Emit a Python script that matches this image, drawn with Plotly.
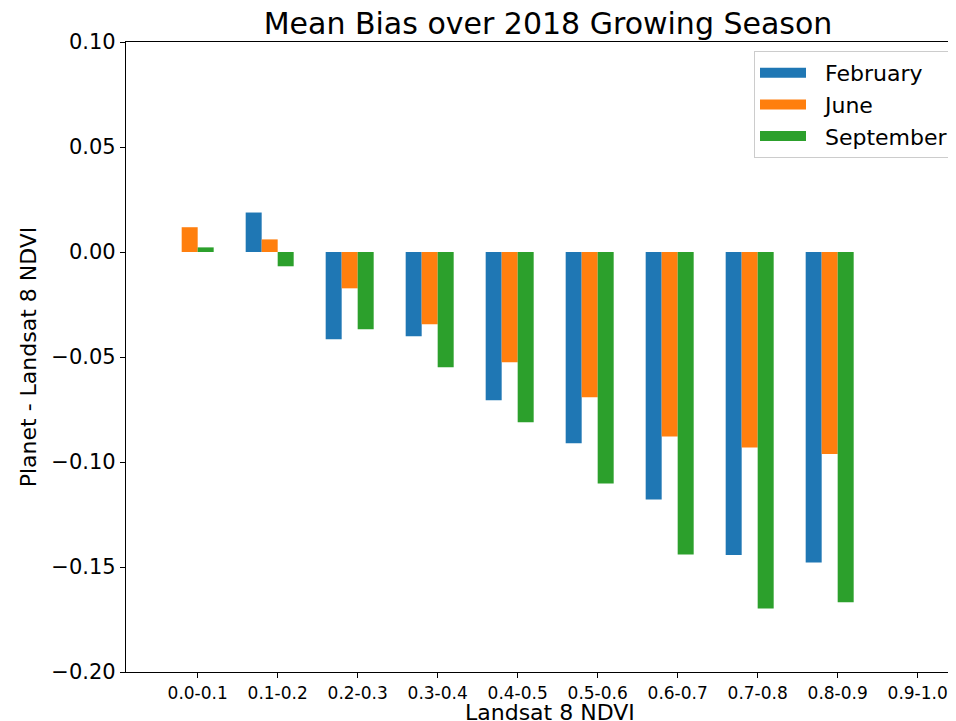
import plotly.graph_objects as go

categories = ["0.0-0.1", "0.1-0.2", "0.2-0.3", "0.3-0.4", "0.4-0.5",
              "0.5-0.6", "0.6-0.7", "0.7-0.8", "0.8-0.9", "0.9-1.0"]
february = [0.0, 0.0188, -0.0416, -0.0401, -0.0706, -0.0911, -0.1178, -0.1443, -0.1478, None]
june = [0.0118, 0.0060, -0.0173, -0.0344, -0.0525, -0.0692, -0.0878, -0.0931, -0.0962, None]
september = [0.0022, -0.0068, -0.0368, -0.0549, -0.0811, -0.1102, -0.1440, -0.1698, -0.1668, None]
y_ticks = [-0.20, -0.15, -0.10, -0.05, 0.00, 0.05, 0.10]

positions = list(range(len(categories)))
series = [("February", february, "#1f77b4", -0.4),
          ("June", june, "#ff7f0e", -0.2),
          ("September", september, "#2ca02c", 0.0)]

# page body adds an 8px margin, so the figure is 8px smaller than the window
W, H = 948, 713
L, T, B = 118, 34, 49
PW, PH = W - L, H - T - B

FONT = "DejaVu Sans, Verdana, sans-serif"
fig = go.Figure()
for name, vals, color, off in series:
    fig.add_trace(go.Bar(x=positions, y=vals, name=name, width=0.2, offset=off,
                         marker=dict(color=color, line=dict(width=0)),
                         showlegend=False))
    fig.add_trace(go.Scatter(x=[None], y=[None], mode="lines", name="\u00a0\u00a0" + name,
                             line=dict(color=color, width=16)))

fig.update_layout(
    width=W, height=H,
    margin=dict(l=L, r=0, t=T, b=B),
    plot_bgcolor="white", paper_bgcolor="white",
    barmode="overlay",
    font=dict(family=FONT, color="black", size=22),
    title=dict(text="Mean Bias over 2018 Growing Season", font=dict(size=30, family=FONT),
               xref="container", x=540/W, xanchor="center",
               yref="container", y=1 - 15/H, yanchor="middle"),
    legend=dict(x=(746-L)/PW, xanchor="left", y=(PH + T - 43)/PH, yanchor="top",
                bgcolor="white", bordercolor="#cccccc", borderwidth=1,
                font=dict(size=22, family=FONT), itemwidth=46),
    showlegend=True,
)
fig.update_xaxes(range=[-0.896, 9.479], tickmode="array", tickvals=positions, ticktext=categories,
                 showgrid=False, zeroline=False, showline=True, linecolor="black", linewidth=1.3,
                 mirror=True, ticks="outside", ticklen=5, tickwidth=1.3, tickcolor="black",
                 tickfont=dict(size=17, family=FONT))
fig.update_yaxes(range=[-0.2, 0.1], tickmode="array", tickvals=y_ticks, tickformat=".2f",
                 showgrid=False, zeroline=False, showline=True, linecolor="black", linewidth=1.3,
                 ticks="outside", ticklen=5, tickwidth=1.3, tickcolor="black",
                 tickfont=dict(size=21, family=FONT),
                 title=dict(text="Planet - Landsat 8 NDVI", font=dict(size=22, family=FONT), standoff=8))
fig.add_annotation(text="Landsat 8 NDVI", xref="paper", yref="paper",
                   x=(542-L)/PW, y=-40/PH, xanchor="center", yanchor="middle",
                   showarrow=False, font=dict(size=22, family=FONT))

fig.write_html("out.html")
